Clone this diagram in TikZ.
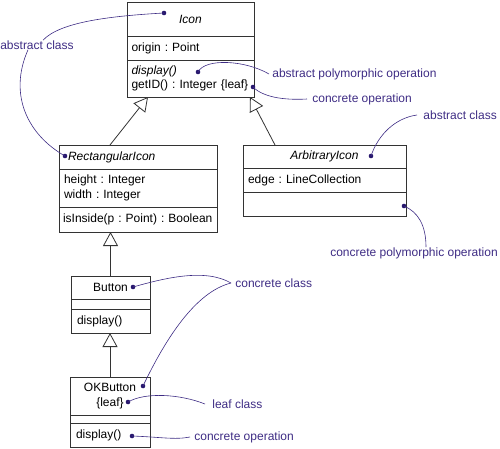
\documentclass[tikz,border=0pt]{standalone}
\usepackage{fontspec}
\setmainfont{Liberation Sans}
\usepackage{tikz}
\usetikzlibrary{positioning, arrows.meta, calc}

\definecolor{notecol}{RGB}{62,44,132}
\definecolor{dotcol}{RGB}{40,24,110}

\begin{document}
\begin{tikzpicture}[x=1pt, y=-1pt, line width=0.8pt,
    comp/.style={draw=black!80, inner sep=0pt, outer sep=0pt, align=left,
        font=\fontsize{12}{14.5}\selectfont\frenchspacing},
    note/.style={text=notecol, inner sep=0pt,
        font=\fontsize{12}{14.5}\selectfont},
    link/.style={draw=notecol, line width=0.6pt},
    gen/.style={draw=black!80, -{Triangle[open, length=14pt, width=15pt]}},
    pin/.style={fill=dotcol}]
\useasboundingbox (0,0) rectangle (500,448);

    % Icon
    \node[comp, minimum width=127pt, minimum height=34pt, align=center] (iconName) at (190.5,19) {\itshape Icon};
    \node[comp, minimum width=127pt, minimum height=24pt, text width=118pt, below=0pt of iconName] (iconAttr) {origin : Point};
    \node[comp, minimum width=127pt, minimum height=37pt, text width=118pt, below=0pt of iconAttr] (iconOps) {\itshape display()\\\upshape\mbox{getID() : Integer \{leaf\}}};

    % RectangularIcon
    \node[comp, minimum width=158pt, minimum height=24pt, text width=148pt, anchor=north] (rectName) at (138,145) {\hspace*{4pt}\itshape RectangularIcon};
    \node[comp, minimum width=158pt, minimum height=38pt, text width=148pt, below=0pt of rectName] (rectAttr) {height : Integer\\width : Integer};
    \node[comp, minimum width=158pt, minimum height=25pt, text width=150pt, below=0pt of rectAttr] (rectOps) {\mbox{isInside(p : Point) : Boolean}};

    % ArbitraryIcon
    \node[comp, minimum width=163pt, minimum height=23pt, align=center, anchor=north] (arbName) at (324.5,145) {\itshape ArbitraryIcon};
    \node[comp, minimum width=163pt, minimum height=24pt, text width=153pt, below=0pt of arbName] (arbAttr) {edge : LineCollection};
    \node[comp, minimum width=163pt, minimum height=24pt, below=0pt of arbAttr] (arbOps) {};

    % Button
    \node[comp, minimum width=79pt, minimum height=23pt, align=center, anchor=north] (btnName) at (110.5,276) {Button};
    \node[comp, minimum width=79pt, minimum height=10pt, below=0pt of btnName] (btnAttr) {};
    \node[comp, minimum width=79pt, minimum height=24pt, text width=67pt, below=0pt of btnAttr] (btnOps) {display()};

    % OKButton
    \node[comp, minimum width=80pt, minimum height=38pt, align=center, anchor=north] (okName) at (110,377) {OKButton\\\{leaf\}};
    \node[comp, minimum width=80pt, minimum height=8pt, below=0pt of okName] (okAttr) {};
    \node[comp, minimum width=80pt, minimum height=24pt, text width=68pt, below=0pt of okAttr] (okOps) {display()};

    % Generalisierung
    \draw[gen] ([xshift=-28pt]rectName.north) -- ([xshift=-42.5pt]iconOps.south);
    \draw[gen] ([xshift=-49.5pt]arbName.north) -- ([xshift=59.5pt]iconOps.south);
    \draw[gen] (btnName.north) -- (btnName.north |- rectOps.south);
    \draw[gen] (okName.north) -- (okName.north |- btnOps.south);

    % Punkte
    \coordinate (dIcon) at (164,13);
    \coordinate (dDisp) at (198,72);
    \coordinate (dGetID) at (253,87);
    \coordinate (dRect) at (65,156);
    \coordinate (dArb) at (371,156);
    \coordinate (dArbOps) at (404,206);
    \coordinate (dBtn) at (133,287);
    \coordinate (dOK) at (143,386);
    \coordinate (dLeaf) at (128,402);
    \coordinate (dOKOps) at (132,436);
    \foreach \d in {dIcon, dDisp, dGetID, dRect, dArb, dArbOps, dBtn, dOK, dLeaf, dOKOps}
        \fill[pin] (\d) circle (2.3pt);

    % Anmerkungen
    \node[note] (absLeft) at (37,45) {abstract class};
    \node[note, anchor=west] (absPoly) at (272,74) {abstract polymorphic operation};
    \node[note, anchor=west] (concOp) at (312,99) {concrete operation};
    \node[note, anchor=west] (absRight) at (423,115) {abstract class};
    \node[note] (concPoly) at (414,253) {concrete polymorphic operation};
    \node[note, anchor=west] (concClass) at (235,283) {concrete class};
    \node[note, anchor=west] (leafClass) at (212,404) {leaf class};
    \node[note, anchor=west] (concOp2) at (194,437) {concrete operation};

    % Verbindungen
    \draw[link] (dIcon) .. controls (110,16) and (60,22) .. ([xshift=6pt]absLeft.north);
    \draw[link] ([xshift=-9pt]absLeft.south) .. controls (8,95) and (28,135) .. (dRect);
    \draw[link] (dDisp) .. controls (205,58) and (245,60) .. ([xshift=-3pt]absPoly.west);
    \draw[link] (dGetID) .. controls (265,99) and (290,100) .. ([xshift=-5pt]concOp.west);
    \draw[link] ([xshift=-6pt]absRight.west) .. controls (395,118) and (378,135) .. (dArb);
    \draw[link] (dArbOps) .. controls (418,212) and (426,225) .. ([xshift=12pt]concPoly.north);
    \draw[link] (dBtn) .. controls (165,278) and (205,268) .. ([xshift=-4pt]concClass.west);
    \draw[link] (dOK) .. controls (165,340) and (195,292) .. ([xshift=-4pt]concClass.west);
    \draw[link] (dLeaf) .. controls (145,392) and (180,394) .. ([xshift=-7pt]leafClass.west);
    \draw[link] (dOKOps) .. controls (160,437) and (175,440) .. ([xshift=-4pt]concOp2.west);

\end{tikzpicture}
\end{document}
